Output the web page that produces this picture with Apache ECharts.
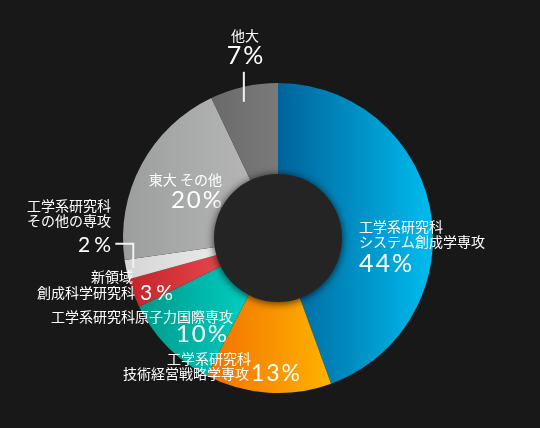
<!DOCTYPE html>
<html><head><meta charset="utf-8">
<script src="https://cdn.jsdelivr.net/npm/echarts@6/dist/echarts.min.js"></script>
<style>html,body{margin:0;padding:0;background:#181818;}#c{width:540px;height:428px;}</style>
</head><body><div id="c"></div>
<script>
// ---- data ----
const names = ['工学系研究科\nシステム創成学専攻', '工学系研究科\n技術経営戦略学専攻', '工学系研究科原子力国際専攻', '新領域\n創成科学研究科', '工学系研究科\nその他の専攻', '東大 その他', '他大'];
const values = [44, 13, 10, 3, 2, 20, 7];
const percentLabels = ['44%', '13%', '10%', '3%', '2%', '20%', '7%'];

// ---- styles / layout (kept apart from data) ----
const CENTER = [278, 238], R = 155, R_INNER = 64;
const gradients = [
  ['#00639a', '#00bcee'],
  ['#f27000', '#ffb300'],
  ['#009a8c', '#00d3c5'],
  ['#c4242a', '#ea4e54'],
  ['#d6d6d6', '#ededed'],
  ['#9c9e9e', '#b7b7b7'],
  ['#6a6a6a', '#7a7a7a']
];
const pctSize = [25, 23, 24, 21, 21, 24, 25];
const letterSp = [2, 2, 2, 4, 4, 2, 2];
const boxes = [
  {x: 359, y: 219.5, align: 'left', mode: 'stack', lh: 15, gap: 29},
  {x: 300, y: 351, align: 'right', mode: 'inline', lh: 15, pad: 49, lpad: 2},
  {x: 227, y: 309.5, align: 'right', mode: 'stack', lh: 15, gap: 20, mpad: -6},
  {x: 173, y: 268, align: 'right', mode: 'inline', lh: 16.5, pad: 40, lpad: 5},
  {x: 111, y: 197.5, align: 'right', mode: 'stack', lh: 15.7, gap: 32},
  {x: 222, y: 172.5, align: 'right', mode: 'stack', lh: 15, gap: 26},
  {x: 245, y: 28.5, align: 'center', mode: 'stack', lh: 15, gap: 25}
];
const JP = '"Noto Sans CJK JP", "Noto Sans", sans-serif';
const NUM = 'Lato, "Noto Sans", sans-serif';

// percent text split into tokens so letter spacing can be given by padding
function pctTokens(i) {
  const chars = percentLabels[i].split('');
  return chars.map((c, k) => {
    let st = 'p';
    if (k === 0 && boxes[i].lpad) st = 'pf';
    if (k < chars.length - 1) st += 's';
    return '{' + st + '|' + c + '}';
  }).join('');
}

function fmt(i) {
  const lines = names[i].split('\n');
  const b = boxes[i];
  if (b.mode === 'stack') {
    const tag = b.mpad ? 'm' : 'n';
    return lines.map(l => '{' + tag + '|' + l + '}').join('\n') + '\n' + pctTokens(i);
  }
  return lines.slice(0, -1).map(l => '{m|' + l + '}').join('\n') +
    '\n{n|' + lines[lines.length - 1] + '}' + pctTokens(i);
}

// point on the outer edge at the middle angle of slice i (from the data)
function edgePoint(i) {
  const total = values.reduce((a, b) => a + b, 0);
  let s = 0;
  for (let k = 0; k < i; k++) s += values[k];
  const th = (s + values[i] / 2) / total * Math.PI * 2;
  return [CENTER[0] + R * Math.sin(th), CENTER[1] - R * Math.cos(th)];
}

const data = values.map((v, i) => {
  const b = boxes[i];
  const fs = pctSize[i];
  const ls = letterSp[i];
  const plh = b.mode === 'stack' ? b.gap : b.lh;
  const pBase = {fontSize: fs, lineHeight: plh, fontFamily: NUM, fontWeight: 400, color: '#fff'};
  return {
    value: v,
    name: names[i],
    itemStyle: {
      color: new echarts.graphic.LinearGradient(0, 0, 1, 0, [
        {offset: 0, color: gradients[i][0]},
        {offset: 1, color: gradients[i][1]}
      ])
    },
    label: {
      formatter: fmt(i),
      width: 220,
      rich: {
        n: {fontSize: 14, lineHeight: b.lh, fontFamily: JP, color: '#fff'},
        m: {fontSize: 14, lineHeight: b.lh, fontFamily: JP, color: '#fff', padding: [0, b.pad || b.mpad || 0, 0, 0]},
        p: Object.assign({}, pBase),
        ps: Object.assign({}, pBase, {padding: [0, ls, 0, 0]}),
        pf: Object.assign({}, pBase, {padding: [0, 0, 0, b.lpad || 0]}),
        pfs: Object.assign({}, pBase, {padding: [0, ls, 0, b.lpad || 0]})
      }
    }
  };
});

// leader lines for the 2% and 7% labels, anchored on the slices' mid-angle edge points
const p7 = edgePoint(6);
const p2 = edgePoint(4);
const lineStyle = {stroke: '#f2f2f2', lineWidth: 2, fill: null};

const chart = echarts.init(document.getElementById('c'));
chart.setOption({
  backgroundColor: '#181818',
  animation: false,
  graphic: [
    {type: 'polyline', z: 100, silent: true, shape: {points: [[p7[0], p7[1] + 15], [p7[0], p7[1] - 15]]}, style: lineStyle},
    {type: 'polyline', z: 100, silent: true, shape: {points: [[p2[0] + 7, p2[1] - 2], [p2[0] + 7, p2[1] - 26], [p2[0] - 11, p2[1] - 26]]}, style: lineStyle}
  ],
  series: [
    {
      type: 'pie',
      z: 2,
      center: CENTER,
      radius: [40, R],
      startAngle: 90,
      clockwise: true,
      avoidLabelOverlap: false,
      silent: true,
      label: {show: true, position: 'outside', color: '#fff'},
      labelLine: {show: false},
      labelLayout: function (params) {
        const b = boxes[params.dataIndex];
        return {x: b.x, y: b.y, align: b.align, verticalAlign: 'top'};
      },
      data: data
    },
    {
      type: 'pie',
      z: 3,
      center: CENTER,
      radius: [0, R_INNER],
      silent: true,
      label: {show: false},
      labelLine: {show: false},
      itemStyle: {color: '#242424', shadowBlur: 8, shadowColor: 'rgba(0,0,0,0.75)', shadowOffsetY: 1},
      data: [{value: 1, name: 'center'}]
    }
  ]
});
</script>
</body></html>
